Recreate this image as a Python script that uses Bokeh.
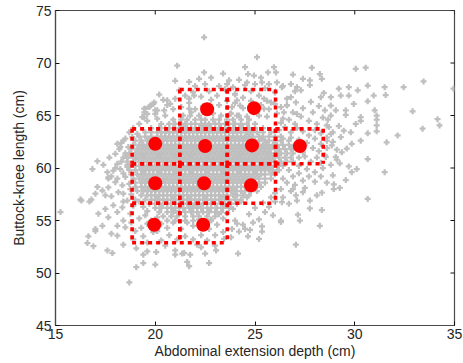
import math
from bokeh.plotting import figure
from bokeh.models import FixedTicker
from bokeh.embed import file_html
from bokeh.resources import INLINE

# ---------------- data ----------------
x_ticks = [15, 20, 25, 30, 35]
y_ticks = [45, 50, 55, 60, 65, 70, 75]
x_label = "Abdominal extension depth (cm)"
y_label = "Buttock-knee length (cm)"

# dense core of the cloud: (y, [x values])
core_rows = [
    (64.6, [20.9, 21.3, 21.6, 22.0, 22.3, 22.5, 22.9, 23.2, 23.6, 23.9, 24.3, 24.7]),
    (64.2, [20.3, 20.7, 21.0, 21.3, 21.5, 21.8, 22.0, 22.3, 22.5, 22.7, 23.0, 23.2, 23.5, 23.7, 24.0, 24.3, 24.6, 25.0]),
    (63.8, [19.8, 20.2, 20.5, 20.7, 20.9, 21.2, 21.4, 21.6, 21.8, 22.0, 22.2, 22.4, 22.6, 22.8, 23.0, 23.3, 23.5, 23.7, 23.9, 24.2, 24.4, 24.7, 25.0, 25.4]),
    (63.4, [19.5, 19.8, 20.1, 20.3, 20.5, 20.7, 20.9, 21.1, 21.3, 21.5, 21.7, 21.9, 22.1, 22.3, 22.5, 22.7, 22.9, 23.1, 23.3, 23.5, 23.7, 23.9, 24.1, 24.3, 24.6, 24.8, 25.1, 25.4, 25.8]),
    (63.0, [19.2, 19.5, 19.8, 20.1, 20.3, 20.5, 20.7, 20.9, 21.1, 21.3, 21.5, 21.7, 21.9, 22.1, 22.3, 22.5, 22.7, 22.9, 23.1, 23.3, 23.5, 23.7, 23.9, 24.1, 24.3, 24.5, 24.7, 24.9, 25.2, 25.4, 25.7, 26.0, 26.3]),
    (62.6, [19.0, 19.3, 19.6, 19.8, 20.0, 20.2, 20.4, 20.6, 20.8, 21.0, 21.2, 21.4, 21.6, 21.8, 22.0, 22.2, 22.4, 22.6, 22.8, 23.0, 23.2, 23.4, 23.6, 23.8, 24.0, 24.2, 24.4, 24.6, 24.8, 25.0, 25.2, 25.5, 25.7, 26.0, 26.3, 26.7]),
    (62.2, [18.9, 19.2, 19.4, 19.6, 19.8, 20.0, 20.2, 20.4, 20.6, 20.8, 21.0, 21.2, 21.4, 21.6, 21.8, 22.0, 22.2, 22.4, 22.6, 22.8, 23.0, 23.2, 23.4, 23.6, 23.8, 24.0, 24.2, 24.4, 24.6, 24.8, 25.0, 25.2, 25.4, 25.6, 25.9, 26.1, 26.4, 26.7, 27.0]),
    (61.8, [18.8, 19.1, 19.3, 19.5, 19.7, 19.9, 20.1, 20.3, 20.5, 20.7, 20.9, 21.1, 21.3, 21.5, 21.7, 21.9, 22.1, 22.3, 22.5, 22.7, 22.9, 23.1, 23.3, 23.5, 23.7, 23.9, 24.1, 24.3, 24.5, 24.7, 24.9, 25.1, 25.3, 25.5, 25.7, 26.0, 26.2, 26.5, 26.8, 27.1]),
    (61.4, [18.7, 19.0, 19.2, 19.4, 19.6, 19.8, 20.0, 20.2, 20.4, 20.6, 20.8, 21.0, 21.2, 21.4, 21.6, 21.8, 22.0, 22.2, 22.4, 22.6, 22.8, 23.0, 23.2, 23.4, 23.6, 23.8, 24.0, 24.2, 24.4, 24.6, 24.8, 25.0, 25.2, 25.4, 25.6, 25.8, 26.1, 26.3, 26.6, 26.9]),
    (61.0, [18.6, 18.9, 19.1, 19.3, 19.5, 19.7, 19.9, 20.1, 20.3, 20.5, 20.7, 20.9, 21.1, 21.3, 21.5, 21.7, 21.9, 22.1, 22.3, 22.5, 22.7, 22.9, 23.1, 23.3, 23.5, 23.7, 23.9, 24.1, 24.3, 24.5, 24.7, 24.9, 25.1, 25.3, 25.5, 25.7, 25.9, 26.2, 26.5, 26.8]),
    (60.6, [18.6, 18.9, 19.2, 19.4, 19.6, 19.8, 20.0, 20.2, 20.4, 20.6, 20.8, 21.0, 21.2, 21.4, 21.6, 21.8, 22.0, 22.2, 22.4, 22.6, 22.8, 23.0, 23.2, 23.4, 23.6, 23.8, 24.0, 24.2, 24.4, 24.6, 24.8, 25.0, 25.2, 25.4, 25.6, 25.8, 26.0, 26.3, 26.6]),
    (60.2, [18.7, 19.0, 19.2, 19.4, 19.6, 19.8, 20.0, 20.2, 20.4, 20.6, 20.8, 21.0, 21.2, 21.4, 21.6, 21.8, 22.0, 22.2, 22.4, 22.6, 22.8, 23.0, 23.2, 23.4, 23.6, 23.8, 24.0, 24.2, 24.4, 24.6, 24.8, 25.0, 25.2, 25.4, 25.6, 25.8, 26.1, 26.4]),
    (59.8, [18.7, 19.0, 19.3, 19.5, 19.7, 19.9, 20.1, 20.3, 20.5, 20.7, 20.9, 21.1, 21.3, 21.5, 21.7, 21.9, 22.1, 22.3, 22.5, 22.7, 22.9, 23.1, 23.3, 23.5, 23.7, 23.9, 24.1, 24.3, 24.5, 24.7, 24.9, 25.1, 25.3, 25.5, 25.7, 25.9, 26.2]),
    (59.4, [18.8, 19.1, 19.3, 19.5, 19.7, 19.9, 20.1, 20.3, 20.5, 20.7, 20.9, 21.1, 21.3, 21.5, 21.7, 21.9, 22.1, 22.3, 22.5, 22.7, 22.9, 23.1, 23.3, 23.5, 23.7, 23.9, 24.1, 24.3, 24.5, 24.7, 24.9, 25.1, 25.3, 25.5, 25.8, 26.0]),
    (59.0, [18.9, 19.2, 19.4, 19.6, 19.8, 20.0, 20.2, 20.4, 20.6, 20.8, 21.0, 21.2, 21.4, 21.6, 21.8, 22.0, 22.2, 22.4, 22.6, 22.8, 23.0, 23.2, 23.4, 23.6, 23.8, 24.0, 24.2, 24.4, 24.6, 24.8, 25.0, 25.2, 25.5, 25.8]),
    (58.6, [19.0, 19.3, 19.5, 19.7, 19.9, 20.1, 20.3, 20.5, 20.7, 20.9, 21.1, 21.3, 21.5, 21.7, 21.9, 22.1, 22.3, 22.5, 22.7, 22.9, 23.1, 23.3, 23.5, 23.7, 23.9, 24.1, 24.3, 24.5, 24.7, 24.9, 25.2, 25.5]),
    (58.2, [19.0, 19.3, 19.5, 19.7, 19.9, 20.1, 20.3, 20.5, 20.7, 20.9, 21.1, 21.3, 21.5, 21.7, 21.9, 22.1, 22.3, 22.5, 22.7, 22.9, 23.1, 23.3, 23.5, 23.7, 23.9, 24.1, 24.3, 24.5, 24.8, 25.0, 25.3]),
    (57.8, [19.1, 19.4, 19.6, 19.8, 20.0, 20.2, 20.4, 20.6, 20.8, 21.0, 21.2, 21.4, 21.6, 21.8, 22.0, 22.2, 22.4, 22.6, 22.8, 23.0, 23.2, 23.4, 23.6, 23.8, 24.0, 24.3, 24.5, 24.8, 25.1]),
    (57.4, [19.3, 19.6, 19.8, 20.0, 20.2, 20.4, 20.6, 20.8, 21.0, 21.2, 21.4, 21.6, 21.8, 22.0, 22.2, 22.4, 22.6, 22.8, 23.0, 23.2, 23.4, 23.6, 23.9, 24.1, 24.4, 24.7]),
    (57.0, [19.5, 19.8, 20.0, 20.2, 20.4, 20.6, 20.8, 21.0, 21.2, 21.4, 21.6, 21.8, 22.0, 22.2, 22.4, 22.6, 22.8, 23.0, 23.2, 23.5, 23.7, 24.0, 24.3]),
    (56.6, [19.7, 20.0, 20.2, 20.4, 20.6, 20.8, 21.0, 21.2, 21.4, 21.6, 21.8, 22.0, 22.2, 22.4, 22.6, 22.8, 23.0, 23.3, 23.5, 23.8, 24.1]),
    (56.2, [20.0, 20.3, 20.6, 20.8, 21.0, 21.2, 21.4, 21.7, 21.9, 22.1, 22.3, 22.6, 22.8, 23.1, 23.4, 23.7]),
    (55.8, [20.2, 20.6, 20.9, 21.2, 21.5, 21.8, 22.1, 22.4, 22.7, 23.0, 23.3]),
    (55.4, [20.4, 20.8, 21.1, 21.5, 21.9, 22.2, 22.6, 23.0]),
    (55.0, [20.6, 21.0, 21.5, 21.9, 22.3, 22.8]),
]

# extra points between the core rows where the cloud is densest: (y, [x values])
core_fill_rows = [
    (63.6, [20.6, 21.5, 22.4, 23.2, 24.0, 24.9]),
    (62.8, [19.7, 20.5, 21.3, 22.1, 22.9, 23.7, 24.5, 25.3]),
    (62.0, [19.5, 20.3, 21.1, 21.9, 22.7, 23.5, 24.3, 25.1, 25.8]),
    (61.2, [19.4, 20.2, 21.0, 21.8, 22.6, 23.4, 24.2, 25.0, 25.7]),
    (60.4, [19.3, 20.1, 20.9, 21.7, 22.5, 23.3, 24.1, 24.9, 25.6]),
    (59.6, [19.4, 20.2, 21.0, 21.8, 22.6, 23.4, 24.2, 25.0]),
    (58.8, [19.6, 20.4, 21.2, 22.0, 22.8, 23.6, 24.4]),
    (58.0, [19.8, 20.6, 21.4, 22.2, 23.0, 23.8]),
    (57.2, [20.1, 20.9, 21.7, 22.5, 23.3]),
]

# medium-density band around the core: (x, y)
mid_pts = [
    (21.4, 65.0), (21.8, 65.3), (22.2, 65.0), (22.9, 65.2), (23.3, 65.0), (23.8, 65.2), (24.2, 65.0), (24.6, 64.9),
    (25.2, 65.0), (25.6, 64.9), (21.3, 65.8), (21.7, 66.2), (22.0, 65.6), (22.4, 65.9), (22.8, 66.5), (23.2, 66.0),
    (23.6, 66.4), (24.0, 66.2), (24.4, 65.7), (24.8, 66.4), (25.3, 66.0), (25.7, 65.6), (26.1, 65.2), (26.4, 64.7),
    (20.9, 65.6), (20.6, 66.0), (21.0, 66.6), (21.5, 66.9), (21.9, 67.2), (22.3, 66.8), (22.7, 67.3), (23.1, 66.9),
    (23.5, 67.5), (24.0, 67.0), (24.4, 66.7), (24.8, 67.3), (25.2, 66.9), (25.6, 66.4), (26.0, 66.1), (26.3, 65.8),
    (22.0, 67.8), (22.5, 68.0), (23.2, 67.8), (23.9, 67.7), (24.5, 67.9), (25.0, 68.0), (25.5, 67.6), (26.0, 67.2),
    (26.6, 66.6), (20.4, 66.5), (21.2, 67.4), (21.7, 68.2), (24.2, 68.4), (25.3, 68.6), (26.4, 67.8), (27.0, 67.3),
    (22.8, 68.6), (20.2, 67.0), (21.0, 68.3), (23.4, 69.0), (27.4, 68.5), (26.9, 68.9),
    (26.2, 63.6), (26.5, 63.9), (26.8, 63.4), (27.1, 63.8), (27.4, 63.5), (27.7, 63.1), (28.0, 63.6), (26.3, 64.3),
    (26.7, 64.6), (27.0, 64.2), (27.3, 64.9), (27.7, 64.5), (28.1, 64.2), (28.4, 64.8), (26.9, 65.3), (27.4, 65.7),
    (27.9, 65.3), (28.2, 65.9), (26.6, 66.0), (27.8, 66.3), (28.5, 65.5), (26.4, 62.8), (26.8, 62.9), (27.2, 62.7),
    (27.6, 62.4), (28.0, 62.8), (28.3, 62.3), (28.6, 62.9), (27.9, 61.9), (28.2, 61.6), (28.6, 61.9), (28.9, 62.5),
    (28.1, 61.0), (28.5, 61.2), (27.5, 61.1), (27.8, 60.6), (28.3, 60.5), (27.2, 60.2), (27.6, 59.9), (28.0, 59.6),
    (28.4, 60.0), (28.8, 60.3), (29.1, 60.8), (28.9, 63.4), (29.2, 64.0), (28.7, 63.9), (26.9, 61.9), (27.3, 62.1),
    (28.3, 63.3), (27.4, 61.5), (27.2, 61.0), (26.9, 60.6),
    (26.0, 57.6), (26.3, 58.0), (26.6, 58.6), (26.9, 59.2), (27.2, 59.5), (26.4, 59.0), (26.1, 59.6), (26.7, 59.8),
    (27.0, 58.4), (27.4, 58.8), (27.7, 59.2), (28.0, 58.7), (28.3, 59.2), (27.5, 58.1), (26.8, 57.8), (26.4, 57.2),
    (26.0, 56.8), (25.7, 56.3), (26.7, 56.6), (25.5, 55.8), (25.9, 55.5), (25.2, 55.1), (24.9, 54.8), (26.9, 58.0),
    (28.6, 58.6), (28.9, 59.3), (25.0, 56.2), (25.4, 56.7), (25.8, 57.2), (24.7, 55.6),
    (19.2, 55.2), (19.5, 55.5), (19.8, 55.0), (20.1, 55.3), (19.6, 54.7), (20.3, 54.7), (20.6, 54.3), (20.9, 54.8),
    (21.3, 54.2), (21.6, 54.8), (21.9, 54.5), (22.2, 55.1), (22.5, 54.7), (22.8, 55.1), (23.1, 54.6), (23.4, 55.2),
    (23.6, 55.7), (23.9, 56.1), (23.2, 55.6), (24.3, 56.8), (24.6, 57.2), (19.4, 53.5), (19.9, 53.9), (20.3, 53.1),
    (20.7, 53.6), (21.1, 53.2), (21.5, 53.5), (21.9, 53.2), (22.3, 53.6), (22.6, 53.1), (23.0, 53.6), (23.4, 53.9),
    (22.1, 52.7), (20.5, 52.6), (19.6, 52.9), (18.9, 53.2), (19.0, 54.0), (18.8, 54.8), (24.0, 55.0), (24.4, 54.6),
    (23.8, 53.4), (19.3, 54.3), (20.1, 54.0), (22.7, 54.2), (21.0, 55.9),
    (18.3, 60.6), (18.0, 60.0), (18.4, 59.5), (17.8, 59.2), (18.2, 61.8), (18.5, 61.4), (18.3, 62.4), (18.7, 63.4),
    (18.9, 63.8), (19.2, 64.2), (19.6, 64.5), (20.1, 64.7), (17.4, 60.3), (17.7, 61.0), (18.8, 57.5), (18.9, 56.4),
    (19.2, 56.8), (19.4, 56.3), (19.6, 55.9), (18.4, 56.8), (17.8, 57.3), (18.7, 58.5), (18.4, 61.0), (19.0, 57.0),
    (18.1, 59.0), (18.6, 60.3),
]

# sparse outer points: (x, y)
outer_pts = [
    (15.25, 55.8), (16.3, 56.9), (16.25, 57.0), (16.8, 57.0), (16.7, 56.8), (17.1, 60.65), (16.85, 59.9), (17.6, 59.6),
    (17.65, 59.0), (17.9, 59.75), (18.1, 60.4), (18.25, 59.9), (18.0, 61.35), (18.4, 62.6), (18.25, 62.0), (18.1, 62.3),
    (18.85, 62.95), (19.35, 64.85), (19.1, 63.25), (17.5, 57.4), (17.35, 57.85), (17.1, 58.2), (17.0, 57.55), (17.65, 58.15),
    (18.0, 58.65), (18.15, 57.7), (18.35, 58.35), (18.4, 57.55), (17.9, 56.45), (17.5, 56.1), (17.15, 55.65), (17.65, 55.3),
    (18.1, 55.8), (18.35, 56.25), (18.4, 55.0), (18.1, 54.5), (18.5, 54.35), (18.6, 56.9), (18.5, 59.15), (18.6, 60.1),
    (18.6, 61.0), (18.65, 62.0), (18.75, 58.0), (18.75, 55.65), (19.45, 65.3), (20.0, 65.15), (20.5, 65.0), (19.9, 66.1),
    (19.7, 65.8), (19.45, 65.65), (19.6, 65.15), (20.0, 65.5), (18.5, 62.8), (18.85, 62.0), (19.0, 60.9), (17.65, 59.1),
    (16.65, 53.5), (16.6, 52.85), (16.9, 52.55), (17.6, 52.15), (17.85, 51.9), (18.4, 52.7), (19.05, 50.55), (19.4, 50.95),
    (19.4, 51.75), (19.6, 52.05), (20.0, 50.8), (20.05, 52.0), (18.7, 49.1), (19.05, 52.35), (21.0, 52.15), (21.0, 51.75),
    (21.45, 51.9), (17.0, 54.2), (17.0, 54.0), (17.35, 54.5), (18.1, 53.55), (17.8, 53.75),
    (24.5, 54.2), (24.75, 54.1), (25.35, 54.45), (25.35, 53.95), (25.2, 53.25), (24.65, 53.5), (24.2, 53.95), (24.15, 51.85),
    (26.3, 54.85), (27.05, 52.7), (22.7, 50.95), (21.6, 51.05), (21.7, 50.65), (21.75, 51.75), (21.35, 51.85), (22.5, 51.85),
    (23.05, 52.15), (22.3, 52.45), (23.0, 52.6), (23.45, 53.25), (23.85, 54.2), (24.1, 54.7),
    (28.25, 54.5), (27.25, 55.0), (27.15, 55.55), (28.35, 56.0), (27.75, 56.15), (30.65, 57.05), (28.95, 58.0), (29.25, 58.1),
    (28.95, 58.45), (29.55, 58.85), (29.85, 59.6), (31.5, 59.6), (28.1, 57.4), (28.35, 57.65), (27.75, 56.9), (27.4, 57.7),
    (27.1, 56.9), (27.05, 57.4), (26.3, 55.0), (26.35, 56.75),
    (27.85, 69.55), (30.05, 69.45), (30.55, 69.55), (33.45, 68.25), (34.95, 67.55), (32.45, 67.7), (31.5, 67.7), (31.55, 66.95),
    (30.65, 67.85), (30.15, 67.4), (29.7, 67.7), (29.2, 67.55), (29.3, 66.9), (29.7, 66.9), (29.95, 66.1), (30.65, 66.35),
    (30.95, 66.9), (28.25, 68.95), (28.35, 68.5), (27.75, 68.35), (27.75, 67.9), (27.3, 67.4), (28.45, 67.15), (28.3, 66.75),
    (28.8, 66.75), (32.9, 65.4), (34.15, 64.65), (34.25, 64.05), (33.4, 63.75), (32.15, 63.1), (31.6, 62.45), (31.1, 65.0),
    (31.1, 64.6), (31.1, 64.05), (31.1, 63.5), (31.0, 65.5), (30.65, 63.3), (30.3, 62.6), (30.65, 60.85), (30.1, 59.9),
    (29.55, 65.5), (29.55, 65.05), (30.3, 64.85), (30.05, 64.2), (29.8, 63.4), (29.45, 63.55), (29.3, 62.95), (29.85, 62.3),
    (29.6, 61.85), (29.35, 61.5), (29.1, 61.75), (29.05, 61.05), (29.25, 60.45), (29.7, 60.15), (28.8, 65.95), (29.05, 65.5),
    (28.8, 65.0), (28.65, 64.6), (28.6, 64.05), (28.8, 63.25), (28.6, 62.6), (28.85, 62.15), (28.55, 61.05), (30.3, 64.5),
    (22.45, 72.45), (25.1, 70.55), (21.1, 69.75), (22.45, 69.1), (22.2, 68.5), (24.5, 69.6), (24.65, 68.95), (24.95, 68.8),
    (25.95, 69.6), (26.05, 69.1), (25.65, 69.1), (23.7, 68.35), (23.6, 68.0), (19.95, 66.25), (19.75, 65.95), (19.5, 65.65),
    (19.45, 64.8), (20.1, 65.5), (20.45, 65.5), (20.6, 66.45), (20.75, 66.1), (21.7, 66.6), (21.95, 66.9), (24.1, 66.45),
    (24.25, 65.95), (23.85, 65.8), (25.45, 66.6), (25.8, 66.25), (25.45, 65.65), (21.7, 65.65), (21.75, 65.0), (23.75, 65.15),
    (24.1, 65.0), (26.8, 66.75), (27.05, 66.25), (26.6, 65.95), (26.45, 65.3), (27.1, 65.15), (24.0, 67.05), (26.8, 68.0),
    (27.1, 67.7), (26.35, 67.7), (25.7, 68.0), (24.6, 68.15), (25.35, 68.15), (26.1, 68.15),
]

# grid of cells (dotted boxes) and cell means (red dots)
col_edges = [18.84, 21.23, 23.61, 26.03, 28.42]
row_edges = [52.88, 56.65, 60.40, 63.73, 67.48]
cells = [(0, 0), (1, 0), (0, 1), (1, 1), (2, 1), (0, 2), (1, 2), (2, 2), (3, 2), (1, 3), (2, 3)]

dot_x = [19.95, 22.4, 20.0, 22.45, 24.8, 20.0, 22.5, 24.85, 27.25, 22.6, 24.95]
dot_y = [54.6, 54.6, 58.55, 58.55, 58.35, 62.3, 62.1, 62.15, 62.1, 65.6, 65.7]

# ---------------- build ----------------
sx, sy = [], []
for yv, row in core_rows + core_fill_rows:
    for xv in row:
        sx.append(xv)
        sy.append(yv)
for xv, yv in mid_pts + outer_pts:
    sx.append(xv)
    sy.append(yv)

seg_x, seg_y = [], []
for c, r in cells:
    x0, x1 = col_edges[c], col_edges[c + 1]
    y0, y1 = row_edges[r], row_edges[r + 1]
    seg_x += [[x0, x1], [x0, x1], [x0, x0], [x1, x1]]
    seg_y += [[y1, y1], [y0, y0], [y1, y0], [y1, y0]]

FONT = "Liberation Sans"
TXT = "#262626"
FRAME = "#4a4a4a"
TICK = "#111111"

p = figure(width=463, height=363, x_range=(15, 35), y_range=(45, 75),
           output_backend="svg", toolbar_location=None,
           min_border_left=55, min_border_right=9, min_border_top=10, min_border_bottom=38)
p.xgrid.visible = False
p.ygrid.visible = False
p.outline_line_color = FRAME
p.outline_line_width = 1.2
p.background_fill_color = "white"
p.border_fill_color = "white"

for ax, ticks in ((p.xaxis[0], x_ticks), (p.yaxis[0], y_ticks)):
    ax.ticker = FixedTicker(ticks=ticks)
    ax.major_tick_in = 4
    ax.major_tick_out = 0
    ax.minor_tick_line_color = None
    ax.major_tick_line_color = TICK
    ax.axis_line_color = FRAME
    ax.axis_line_width = 1.2
    ax.major_label_text_font = FONT
    ax.major_label_text_font_size = "14px"
    ax.major_label_text_color = TXT
    ax.axis_label_text_font = FONT
    ax.axis_label_text_font_size = "14px"
    ax.axis_label_text_font_style = "normal"
    ax.axis_label_text_color = TXT

p.xaxis[0].axis_label = x_label
p.yaxis[0].axis_label = y_label
p.xaxis[0].major_label_standoff = 3
p.xaxis[0].axis_label_standoff = 1
p.yaxis[0].major_label_standoff = 4
p.yaxis[0].axis_label_standoff = 6

# scatter cloud
p.scatter(x=sx, y=sy, marker="plus", size=6, fill_color="#bfbfbf", line_color=None)
# dotted cell boxes
p.multi_line(xs=seg_x, ys=seg_y, line_color="#ff0000", line_width=3.6, line_dash="4 4")
# cell means
p.scatter(x=dot_x, y=dot_y, marker="circle", size=14, fill_color="#ff0000", line_color=None)

# mirrored ticks on the top and right edges (clipped to the frame, half inside)
p.scatter(x=x_ticks, y=[y_ticks[-1]] * len(x_ticks), marker="dash", angle=math.pi / 2,
          size=8, line_color=TICK, line_width=1)
p.scatter(x=[x_ticks[-1]] * len(y_ticks), y=y_ticks, marker="dash",
          size=8, line_color=TICK, line_width=1)

open("out.html", "w").write(file_html(p, INLINE))
